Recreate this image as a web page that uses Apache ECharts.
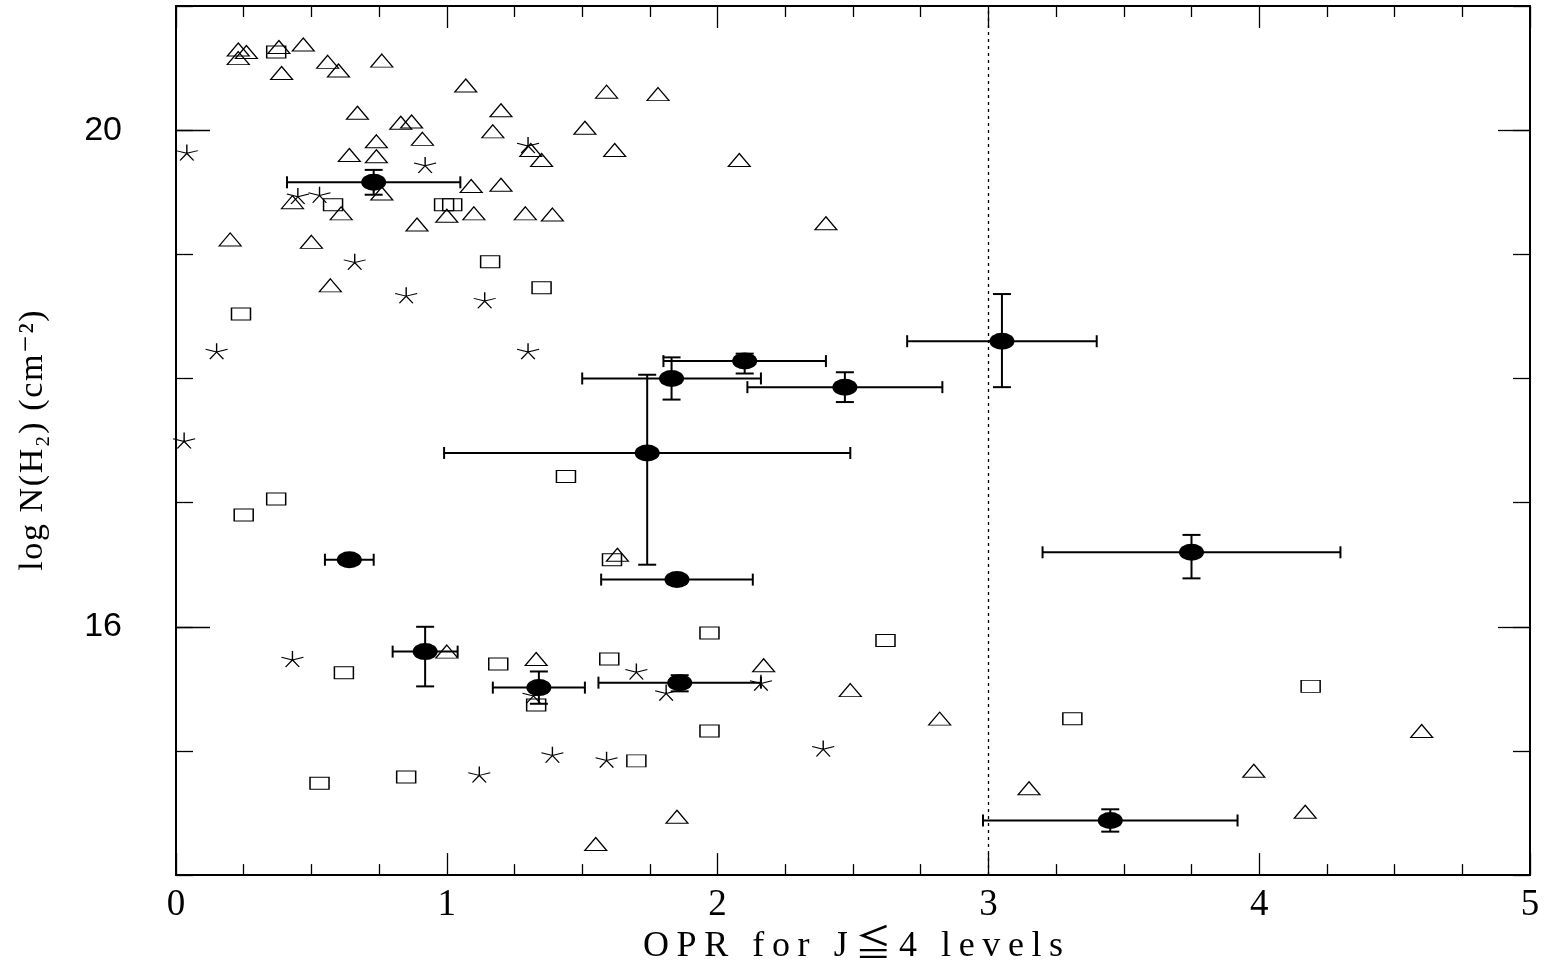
<!DOCTYPE html>
<html><head><meta charset="utf-8">
<script src="https://cdn.jsdelivr.net/npm/echarts@6/dist/echarts.min.js"></script>
<style>html,body{margin:0;padding:0;background:#fff}#c{width:1552px;height:970px}</style>
</head><body><div id="c"></div>
<script>
// ---- data (OPR, log N(H2)) ----
const triangles = [[0.23,20.65],[0.26,20.63],[0.23,20.58],[0.38,20.67],[0.47,20.69],[0.56,20.55],[0.60,20.48],[0.76,20.56],[0.39,20.46],[1.07,20.36],[1.20,20.16],[1.59,20.31],[1.78,20.29],[0.67,20.14],[0.83,20.06],[0.87,20.07],[1.17,19.99],[1.51,20.02],[0.74,19.91],[0.91,19.93],[1.31,19.84],[1.35,19.76],[0.64,19.80],[0.74,19.79],[1.62,19.84],[2.08,19.76],[0.76,19.49],[1.09,19.55],[1.20,19.56],[0.43,19.42],[0.61,19.33],[1.00,19.31],[1.10,19.33],[1.29,19.33],[1.39,19.32],[0.89,19.24],[2.40,19.25],[0.20,19.12],[0.50,19.10],[0.57,18.75],[1.63,16.58],[1.00,15.80],[1.33,15.74],[2.17,15.69],[2.49,15.49],[2.82,15.26],[3.15,14.70],[1.85,14.47],[1.55,14.25],[4.60,15.16],[3.98,14.84],[4.17,14.51]];
const squares = [[0.37,20.63],[0.58,19.40],[0.99,19.40],[1.02,19.40],[1.16,18.94],[1.35,18.73],[0.24,18.52],[1.44,17.21],[0.37,17.03],[0.25,16.90],[1.61,16.54],[0.62,15.63],[1.19,15.70],[1.33,15.37],[0.85,14.79],[0.53,14.74],[1.97,15.95],[2.62,15.89],[1.60,15.74],[1.97,15.16],[1.70,14.92],[4.19,15.52],[3.31,15.26]];
const stars = [[1.30,19.88],[0.04,19.82],[0.92,19.72],[0.45,19.47],[0.53,19.48],[0.66,18.94],[0.85,18.67],[1.14,18.63],[0.15,18.22],[1.30,18.22],[0.03,17.50],[0.43,15.74],[1.32,15.45],[1.39,14.97],[1.12,14.81],[1.70,15.64],[2.16,15.55],[1.81,15.47],[2.39,15.02],[1.59,14.93]];
// detections with error bars
const detX   = [0.73, 0.64, 2.10, 1.83, 2.47, 3.05, 1.74, 1.85, 3.75, 0.92, 1.34, 1.86, 3.45];
const detY   = [19.58,16.54,18.14,18.00,17.93,18.30,17.40,16.38,16.60,15.80,15.51,15.55,14.44];
const detXlo = [0.41, 0.55, 1.80, 1.50, 2.11, 2.70, 0.99, 1.57, 3.20, 0.80, 1.17, 1.56, 2.98];
const detXhi = [1.05, 0.73, 2.40, 2.16, 2.83, 3.40, 2.49, 2.13, 4.30, 1.04, 1.51, 2.16, 3.92];
const detYlo = [19.48,null, 18.04,17.83,17.81,17.93,16.50,null, 16.39,15.52,15.38,15.48,14.35];
const detYhi = [19.68,null, 18.20,18.17,18.05,18.68,18.03,null, 16.74,16.00,15.64,15.61,14.53];
const xTickLabels = ['0','1','2','3','4','5'];
const yLabelValues = [16, 20];
const opr3 = 3;
const xTitle = 'OPR for J≦4 levels';
const yTitle = 'log N(H₂) (cm⁻²)';

const errData = detX.map((x,i)=>[x, detY[i], detXlo[i], detXhi[i], detYlo[i]==null?'-':detYlo[i], detYhi[i]==null?'-':detYhi[i]]);

const serif = "'Liberation Serif','DejaVu Serif','Noto Sans CJK JP',serif";
const starPath = 'path://M0,0L0,-10M0,0L9.51,-3.09M0,0L-9.51,-3.09M0,0L-5.88,8.09M0,0L5.88,8.09';
const ellipsePath = 'path://M0,8A12,8,0,1,1,24,8A12,8,0,1,1,0,8Z';
const spaced = (s)=>Array.from(s).map(ch=>'{c|'+ch+'}').join('');

function xAxisCfg(pos, labels){
  return {
    type:'value', min:0, max:5, interval:1, position:pos,
    axisLine:{show:true, onZero:false, lineStyle:{color:'#000', width:2}},
    axisTick:{show:true, inside:true, length:22, lineStyle:{color:'#000', width:1.3}},
    minorTick:{show:true, splitNumber:4, length:11, lineStyle:{color:'#000', width:1.3}},
    splitLine:{show:false}, minorSplitLine:{show:false},
    axisLabel:{show:labels, color:'#000', fontFamily:serif, fontSize:37, margin:12,
      formatter:(v)=>xTickLabels[Math.round(v)]},
    name: labels ? spaced(xTitle) : '', nameLocation:'middle', nameGap:48,
    nameTextStyle:{color:'#000', fontFamily:serif, fontSize:36,
      rich:{c:{color:'#000', fontFamily:serif, fontSize:36, padding:[0,3.8]}}}
  };
}
function yAxisCfg(pos, longTicks, labels, len){
  const c = {
    type:'value', min:14, max:21, interval:1, position:pos,
    axisLine:{show:!longTicks, onZero:false, lineStyle:{color:'#000', width:2}},
    axisTick:{show:true, inside:true, length:len, lineStyle:{color:'#000', width:1.3}},
    splitLine:{show:false},
    axisLabel:{show:labels, color:'#000', fontFamily:"'Liberation Sans','DejaVu Sans',sans-serif", fontSize:34, margin:54,
      formatter:(v)=> yLabelValues.indexOf(v)>=0 ? String(v) : ''},
  };
  if (longTicks) c.axisTick.customValues = yLabelValues;
  if (labels) {
    c.name = spaced(yTitle);
    c.nameLocation = 'middle';
    c.nameGap = 126;
    c.nameTextStyle = {color:'#000', fontFamily:serif, fontSize:34,
      rich:{c:{color:'#000', fontFamily:serif, fontSize:34, padding:[0,0.8]}}};
  }
  return c;
}

const chart = echarts.init(document.getElementById('c'), null, {renderer:'canvas'});
chart.setOption({
  animation:false,
  backgroundColor:'#fff',
  grid:{left:176, right:22, top:6, bottom:87},
  xAxis:[xAxisCfg('bottom', true), xAxisCfg('top', false)],
  yAxis:[yAxisCfg('left', false, true, 17), yAxisCfg('left', true, false, 34),
         yAxisCfg('right', false, false, 17), yAxisCfg('right', true, false, 32)],
  series:[
    {type:'scatter', name:'triangles', data:triangles, symbol:'triangle', symbolSize:[22,13],
     itemStyle:{color:'rgba(0,0,0,0)', borderColor:'#000', borderWidth:1.2, opacity:1}, z:2,
     markLine:{silent:true, symbol:'none', label:{show:false},
       lineStyle:{color:'#000', width:1.3, type:[3,4], opacity:1}, data:[{xAxis:opr3}]}},
    {type:'scatter', name:'squares', data:squares, symbol:'rect', symbolSize:[19,12],
     itemStyle:{color:'rgba(0,0,0,0)', borderColor:'#000', borderWidth:1.2, opacity:1}, z:2},
    {type:'scatter', name:'stars', data:stars, symbol:starPath, symbolSize:[22,16],
     itemStyle:{color:'none', borderColor:'#000', borderWidth:1.2, opacity:1}, z:2},
    {type:'custom', name:'errors', data:errData, encode:{x:[0,2,3], y:[1,4,5]}, z:3,
     renderItem:(params, api)=>{
       const x=api.value(0), y=api.value(1);
       const c=api.coord([x,y]);
       const xl=api.coord([api.value(2), y])[0], xh=api.coord([api.value(3), y])[0];
       const st={stroke:'#000', lineWidth:2};
       const ch=[
         {type:'line', shape:{x1:xl,y1:c[1],x2:xh,y2:c[1]}, style:st},
         {type:'line', shape:{x1:xl,y1:c[1]-6,x2:xl,y2:c[1]+6}, style:st},
         {type:'line', shape:{x1:xh,y1:c[1]-6,x2:xh,y2:c[1]+6}, style:st}
       ];
       const ylo=api.value(4), yhi=api.value(5);
       if(!isNaN(ylo) && !isNaN(yhi)){
         const yl=api.coord([x,ylo])[1], yh=api.coord([x,yhi])[1];
         ch.push({type:'line', shape:{x1:c[0],y1:yl,x2:c[0],y2:yh}, style:st});
         ch.push({type:'line', shape:{x1:c[0]-9,y1:yl,x2:c[0]+9,y2:yl}, style:st});
         ch.push({type:'line', shape:{x1:c[0]-9,y1:yh,x2:c[0]+9,y2:yh}, style:st});
       }
       return {type:'group', children:ch};
     }},
    {type:'scatter', name:'detections', data:detX.map((x,i)=>[x,detY[i]]), symbol:ellipsePath, symbolSize:[25,17],
     itemStyle:{color:'#000', opacity:1}, z:4}
  ]
});
</script></body></html>
